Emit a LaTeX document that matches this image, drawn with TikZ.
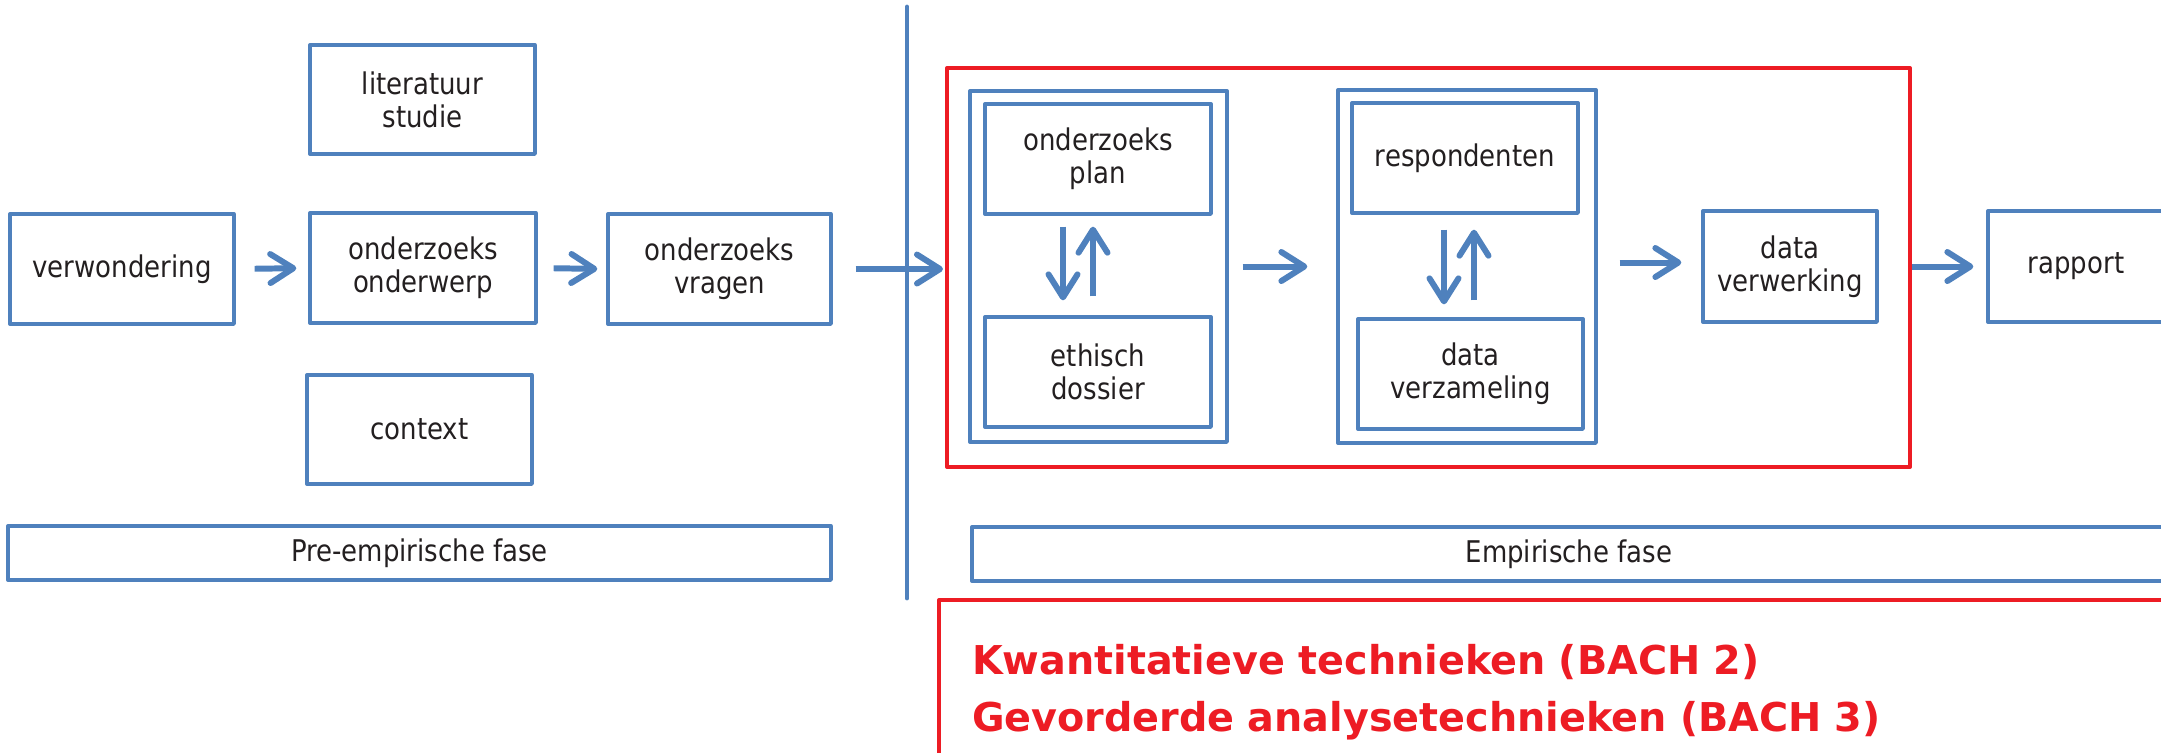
\documentclass[tikz,border=0pt]{standalone}
\usepackage{fontspec}
\setmainfont{DejaVu Sans}[FakeStretch=0.87]
\newfontfamily\vetfont{DejaVu Sans}
\usetikzlibrary{arrows.meta}
\definecolor{blauw}{HTML}{4F81BD}
\definecolor{rood}{HTML}{ED1C24}
\definecolor{tekst}{HTML}{231F20}
\tikzstyle{every path}=[line width=1pt, line cap=round, line join=round]
\tikzstyle{blok}=[draw=blauw, line width=0.95pt, text=tekst, align=center, inner sep=0pt, font=\fontsize{8.5}{9.4}\selectfont]
\tikzstyle{kader}=[draw=rood, line width=1.15pt, inner sep=0pt]
\tikzstyle{pijl}=[draw=blauw, line width=1.7pt, line cap=butt, -{Straight Barb[length=2.3mm,width=2.9mm,line width=1.7pt,round]}]

\begin{document}
\begin{tikzpicture}
          \useasboundingbox (0,0) rectangle (21.61,-7.52);
          %pre-empirische fase
          \node[blok, minimum width=2.24cm, minimum height=1.1cm] (verwondering) at (1.22,-2.69) {verwondering};
          \node[blok, minimum width=2.25cm, minimum height=1.09cm] (literatuur) at (4.225,-0.995) {literatuur\\studie};
          \node[blok, minimum width=2.26cm, minimum height=1.1cm] (onderwerp) at (4.23,-2.68) {onderzoeks\\onderwerp};
          \node[blok, minimum width=2.25cm, minimum height=1.09cm] (context) at (4.195,-4.295) {context};
          \node[blok, minimum width=2.23cm, minimum height=1.1cm] (vragen) at (7.195,-2.69) {onderzoeks\\vragen};
          \node[blok, minimum width=8.23cm, minimum height=0.54cm] (prefase) at (4.195,-5.53) {Pre-empirische fase};
          %scheiding
          \coordinate (boven) at (9.07,-0.07);
          \coordinate (onder) at (9.07,-5.98);
          \draw[blauw, line width=1.4pt] (boven) -- (onder);
          %empirische fase
          \node[kader, minimum width=9.63cm, minimum height=3.99cm] (empbox) at (14.285,-2.675) {};
          \node[blok, minimum width=2.57cm, minimum height=3.51cm] (kolom1) at (10.985,-2.665) {};
          \node[blok, minimum width=2.26cm, minimum height=1.1cm] (plan) at (10.98,-1.59) {onderzoeks\\plan};
          \node[blok, minimum width=2.26cm, minimum height=1.1cm] (ethisch) at (10.98,-3.72) {ethisch\\dossier};
          \node[blok, minimum width=2.58cm, minimum height=3.53cm] (kolom2) at (14.67,-2.665) {};
          \node[blok, minimum width=2.26cm, minimum height=1.1cm] (respondenten) at (14.65,-1.58) {respondenten};
          \node[blok, minimum width=2.25cm, minimum height=1.1cm] (verzameling) at (14.705,-3.74) {data\\verzameling};
          \node[blok, minimum width=1.74cm, minimum height=1.11cm] (verwerking) at (17.90,-2.665) {data\\verwerking};
          \node[blok, minimum width=1.76cm, minimum height=1.11cm] (rapport) at (20.76,-2.665) {rapport};
          \node[blok, minimum width=11.94cm, minimum height=0.54cm] (empfase) at (15.69,-5.54) {Empirische fase};
          %technieken
          \node[kader, anchor=north west, text width=11.67cm, inner xsep=0.33cm, minimum height=1.84cm, align=left, text=rood, font=\vetfont\bfseries\fontsize{11.3}{16.4}\selectfont] (technieken) at (9.37,-5.98) {Kwantitatieve technieken (BACH 2)\\Gevorderde analysetechnieken (BACH 3)};
          %pijlen
          \draw[pijl, shorten <=0.19cm, shorten >=0.12cm] (verwondering.east) -- (onderwerp.west);
          \draw[pijl, shorten <=0.16cm, shorten >=0.09cm] (onderwerp.east) -- (vragen.west);
          \draw[pijl, shorten <=0.23cm, shorten >=0.02cm] (vragen.east) -- (vragen.east -| empbox.west);
          \draw[pijl, shorten <=0.14cm, shorten >=0.29cm] (kolom1.east) -- (kolom2.west);
          \draw[pijl, shorten <=0.22cm, shorten >=0.2cm] ([yshift=0.04cm]kolom2.east) -- ([yshift=0.04cm]kolom2.east -| verwerking.west);
          \draw[pijl, shorten <=0.0cm, shorten >=0.13cm] (empbox.east |- rapport.west) -- (rapport.west);
          \draw[pijl, shorten <=0.11cm, shorten >=0.15cm] ([xshift=-0.35cm]plan.south) -- ([xshift=-0.35cm]plan.south |- ethisch.north);
          \draw[pijl, shorten <=0.19cm, shorten >=0.11cm] ([xshift=-0.05cm]plan.south |- ethisch.north) -- ([xshift=-0.05cm]plan.south);
          \draw[pijl, shorten <=0.15cm, shorten >=0.13cm] ([xshift=-0.21cm]respondenten.south) -- ([xshift=-0.21cm]respondenten.south |- verzameling.north);
          \draw[pijl, shorten <=0.17cm, shorten >=0.15cm] ([xshift=0.09cm]respondenten.south |- verzameling.north) -- ([xshift=0.09cm]respondenten.south);
        \end{tikzpicture}
\end{document}
